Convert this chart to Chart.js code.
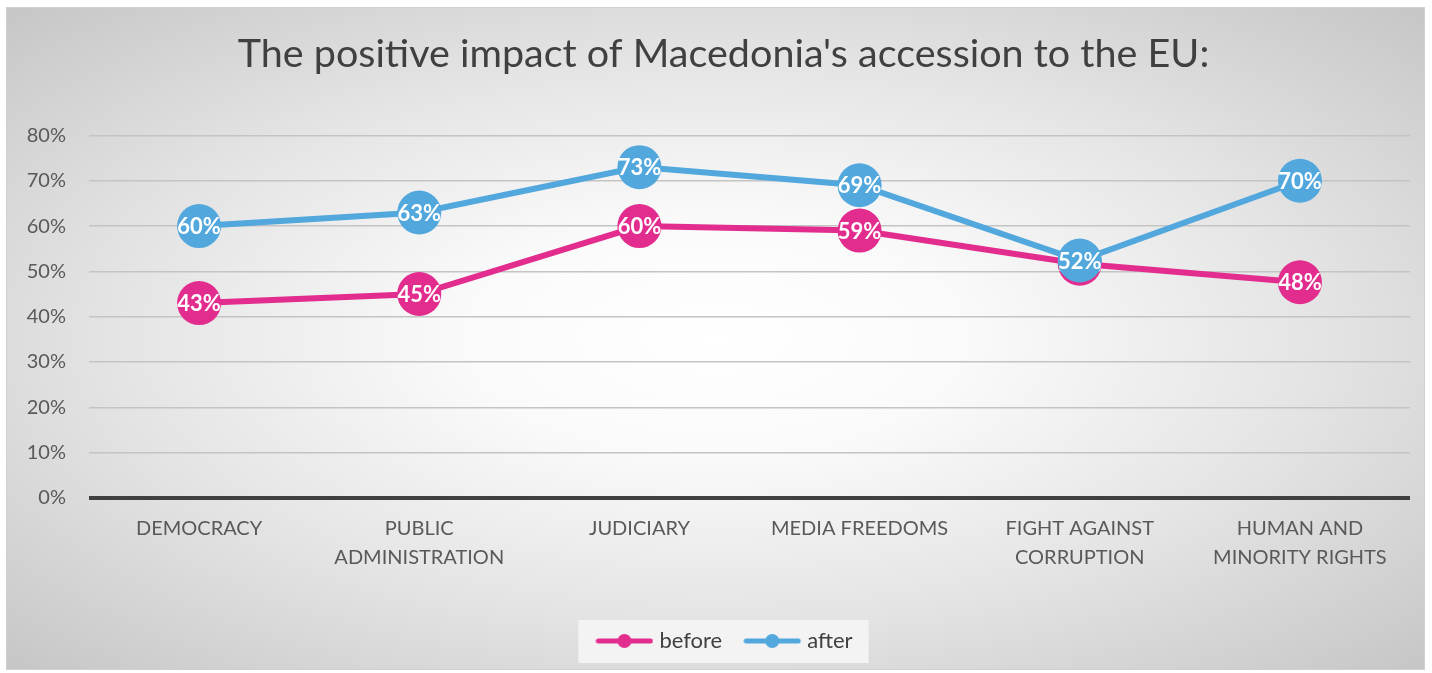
<!DOCTYPE html>
<html>
<head>
<meta charset="utf-8">
<script src="https://cdn.jsdelivr.net/npm/chart.js@4"></script>
<style>
  html, body { margin: 0; padding: 0; background: #ffffff; }
  #frame {
    position: absolute; left: 6px; top: 7px; width: 1417px; height: 661px;
    border: 1px solid #d0d0d0;
    background: radial-gradient(ellipse at 50% 50%, #ffffff 0%, #fafafa 25%, #e4e4e4 60%, #c6c6c6 100%);
  }
  #chart { display: block; }
</style>
</head>
<body>
<div id="frame"><canvas id="chart" width="1417" height="661"></canvas></div>
<script>
// Chart data
const categories = [
  'DEMOCRACY',
  ['PUBLIC', 'ADMINISTRATION'],
  'JUDICIARY',
  'MEDIA FREEDOMS',
  ['FIGHT AGAINST', 'CORRUPTION'],
  ['HUMAN AND', 'MINORITY RIGHTS']
];
const beforeValues = [43, 45, 60, 59, 51.7, 47.6];
const afterValues = [60, 63, 73, 69, 52.4, 70];
const seriesNames = ['before', 'after'];
const yTicks = [0, 10, 20, 30, 40, 50, 60, 70, 80];

const colors = {
  before: '#e22d8f',
  after: '#52a8dd',
  text: '#595959',
  grid: '#c4c4c4',
  zero: '#404040'
};

const fontFamily = "Lato, 'Open Sans', sans-serif";

// small line + dot marker for the legend
function legendMarker(color) {
  const c = document.createElement('canvas');
  c.width = 58; c.height = 16;
  const g = c.getContext('2d');
  g.strokeStyle = color;
  g.lineWidth = 5;
  g.lineCap = 'round';
  g.beginPath(); g.moveTo(3, 8); g.lineTo(55, 8); g.stroke();
  g.fillStyle = color;
  g.beginPath(); g.arc(29, 8, 7, 0, Math.PI * 2); g.fill();
  return c;
}
const markers = [legendMarker(colors.before), legendMarker(colors.after)];

// white percentage labels inside the points
const pointLabels = {
  id: 'pointLabels',
  afterDatasetDraw(chart, args) {
    const ctx = chart.ctx;
    const ds = chart.data.datasets[args.index];
    ctx.save();
    ctx.fillStyle = '#ffffff';
    ctx.font = 'bold 22px ' + fontFamily;
    ctx.textAlign = 'center';
    ctx.textBaseline = 'middle';
    args.meta.data.forEach((pt, i) => {
      ctx.fillText(Math.round(ds.data[i]) + '%', pt.x, pt.y + 1);
    });
    ctx.restore();
  }
};

// title and legend sit a little right of the canvas centre in the original
const centreShift = {
  id: 'centreShift',
  afterLayout(chart) {
    [chart.titleBlock, chart.legend].forEach((box, i) => {
      if (!box) return;
      const dx = i === 0 ? 15 : 18;
      box.left += dx;
      box.right += dx;
    });
  }
};

// light box behind the legend
const legendBox = {
  id: 'legendBox',
  beforeDraw(chart) {
    const boxes = chart.legend.legendHitBoxes;
    if (!boxes || !boxes.length) return;
    const left = Math.min(...boxes.map(b => b.left)) - 22;
    const right = Math.max(...boxes.map(b => b.left + b.width)) + 16;
    const top = Math.min(...boxes.map(b => b.top)) - 10;
    const bottom = Math.max(...boxes.map(b => b.top + b.height)) + 11;
    const ctx = chart.ctx;
    ctx.save();
    ctx.fillStyle = '#f3f3f3';
    ctx.fillRect(left, top, right - left, bottom - top);
    ctx.restore();
  }
};

const ctx = document.getElementById('chart').getContext('2d');

const chart = new Chart(ctx, {
  type: 'line',
  data: {
    labels: categories,
    datasets: [
      {
        label: seriesNames[0],
        data: beforeValues,
        borderColor: colors.before,
        backgroundColor: colors.before,
        borderWidth: 6,
        pointRadius: 22,
        pointHoverRadius: 22,
        pointBorderWidth: 0,
        order: 1
      },
      {
        label: seriesNames[1],
        data: afterValues,
        borderColor: colors.after,
        backgroundColor: colors.after,
        borderWidth: 6,
        pointRadius: 22,
        pointHoverRadius: 22,
        pointBorderWidth: 0,
        order: 0
      }
    ]
  },
  options: {
    responsive: false,
    animation: false,
    layout: { autoPadding: false, padding: { left: 0, right: 14, bottom: 7 } },
    scales: {
      x: {
        offset: true,
        grid: { display: false },
        border: { display: false },
        ticks: {
          color: colors.text,
          font: { family: fontFamily, size: 20, lineHeight: 1.45 },
          padding: 8,
          maxRotation: 0,
          autoSkip: false
        },
        afterFit(scale) {
          scale.height = 106;
          scale.paddingLeft = 0;
          scale.paddingRight = 0;
        }
      },
      y: {
        min: 0,
        max: 80,
        afterBuildTicks(scale) { scale.ticks = yTicks.map(v => ({ value: v })); },
        border: { display: false },
        grid: {
          drawTicks: false,
          color: c => c.tick.value === 0 ? colors.zero : colors.grid,
          lineWidth: c => c.tick.value === 0 ? 4 : 1.5
        },
        ticks: {
          color: colors.text,
          font: { family: fontFamily, size: 20 },
          padding: 23,
          callback: v => v + '%'
        },
        afterFit(scale) { scale.width = 82; }
      }
    },
    plugins: {
      title: {
        display: true,
        text: "The positive impact of Macedonia's accession to the EU:",
        color: '#404040',
        font: { family: fontFamily, size: 39.5, weight: 'normal' },
        padding: { top: 23, bottom: 57 }
      },
      legend: {
        position: 'bottom',
        labels: {
          color: '#404040',
          font: { family: fontFamily, size: 22 },
          usePointStyle: true,
          pointStyleWidth: 48,
          padding: 26,
          sort: (a, b) => a.datasetIndex - b.datasetIndex,
          generateLabels(chart) {
            const items = Chart.defaults.plugins.legend.labels.generateLabels(chart);
            items.forEach(it => { it.pointStyle = markers[it.datasetIndex]; });
            return items;
          }
        }
      },
      tooltip: { enabled: false }
    }
  },
  plugins: [centreShift, legendBox, pointLabels]
});
</script>
</body>
</html>
